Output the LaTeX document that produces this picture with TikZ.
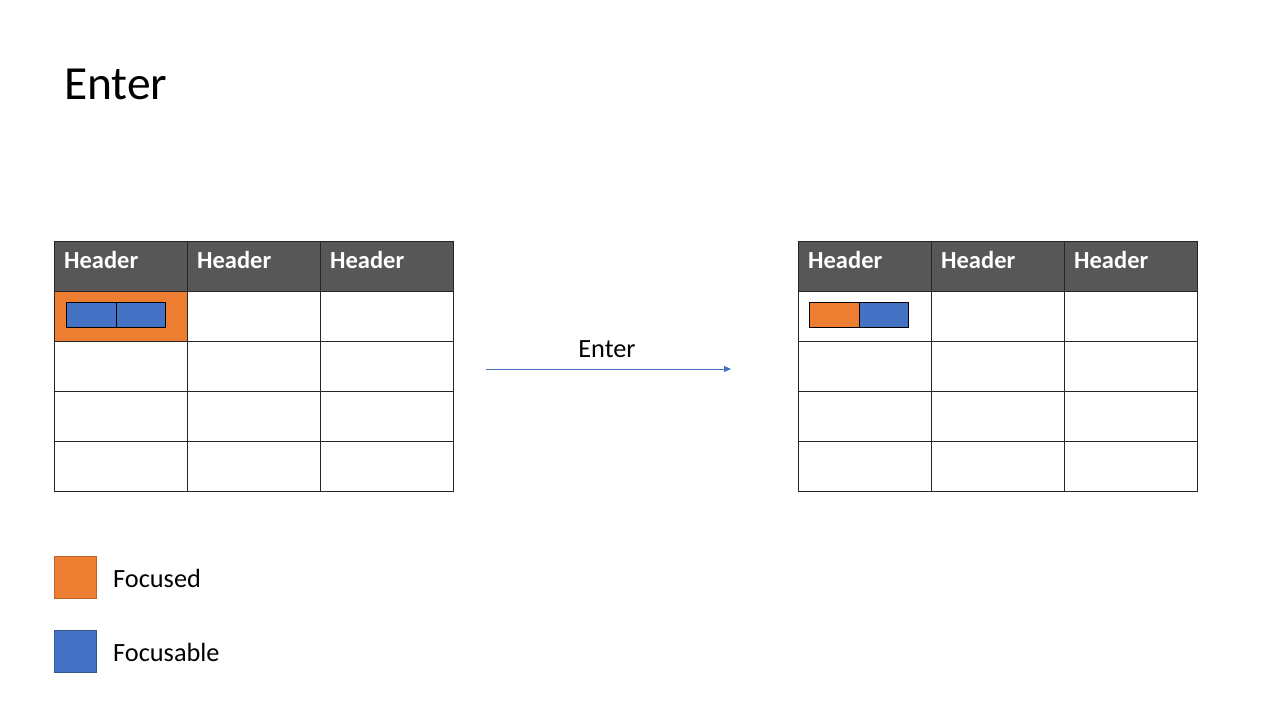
\documentclass[tikz,border=0pt]{standalone}
\usepackage{fontspec}
\setmainfont{Carlito}
\usetikzlibrary{arrows.meta}
\definecolor{focused}{HTML}{ED7D31}
\definecolor{focusable}{HTML}{4472C4}
\definecolor{hdr}{HTML}{575757}
\definecolor{arrowblue}{HTML}{4472C4}
\begin{document}
\begin{tikzpicture}[x=1pt,y=-1pt,
  cell/.style={draw=black!85, line width=0.9pt, minimum width=133pt, minimum height=50pt, anchor=north west, inner sep=0pt, outer sep=0pt},
  hcell/.style={cell, fill=hdr},
  htext/.style={anchor=base west, text=white, font=\fontsize{24.5}{28}\selectfont\bfseries, inner sep=0pt},
  minibox/.style={draw=black, line width=0.9pt, minimum height=25pt, anchor=north west, inner sep=0pt, outer sep=0pt},
  legbox/.style={minimum width=42pt, minimum height=42pt, inner sep=0pt, line width=0.8pt},
  lbl/.style={font=\fontsize{26.3}{30}\selectfont, inner sep=0pt},
  flow/.style={draw=arrowblue, line width=0.9pt, -{Triangle[length=7pt,width=6pt]}}]
\useasboundingbox (0,0) rectangle (1280,720);
% title
\node[anchor=base west, font=\fontsize{47.5}{52}\selectfont, inner sep=0pt] (title) at (64,99) {Enter};
% tables
\foreach \t/\x in {L/54,R/798}{
  \foreach \c in {0,1,2}{
    \node[hcell] (\t-h\c) at ({\x+\c*133},241) {};
    \node[htext] (\t-ht\c) at ({\x+\c*133+10},268) {Header};
    \foreach \r in {1,2,3,4}{
      \node[cell] (\t-\r-\c) at ({\x+\c*133},{241+\r*50}) {};
    }
  }
}
% focused cell on the left
\node[cell, fill=focused] (L-1-0f) at (54,291) {};
\node[minibox, fill=focusable, minimum width=50pt] (L-b1) at (66,302) {};
\node[minibox, fill=focusable, minimum width=49pt] (L-b2) at (116,302) {};
% right inner boxes
\node[minibox, fill=focused, minimum width=50pt] (R-b1) at (809,302) {};
\node[minibox, fill=focusable, minimum width=49pt] (R-b2) at (859,302) {};
% arrow
\coordinate (a1) at (486,369);
\coordinate (a2) at (731,369);
\draw[flow] (a1) -- (a2);
\node[lbl, anchor=base] (alabel) at (607,357) {Enter};
% legend
\node[legbox, fill=focused, draw=focused!80!black, anchor=north west] (lg1) at (54,556) {};
\node[lbl, anchor=base west] (lt1) at (113,587) {Focused};
\node[legbox, fill=focusable, draw=focusable!75!black, anchor=north west] (lg2) at (54,630) {};
\node[lbl, anchor=base west] (lt2) at (113,661) {Focusable};
\end{tikzpicture}
\end{document}
